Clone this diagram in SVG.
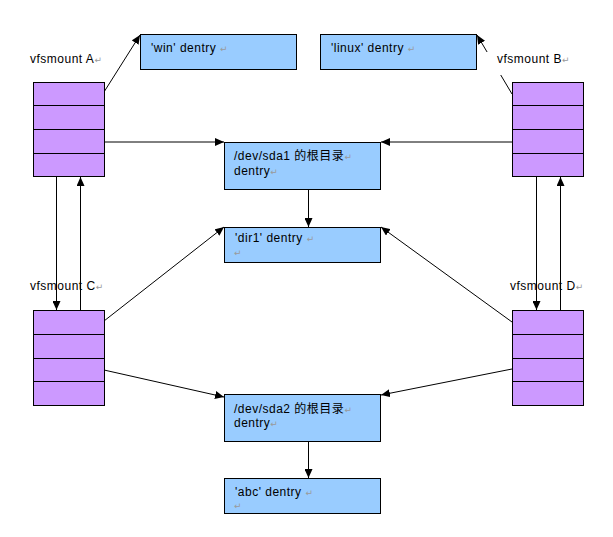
<svg xmlns="http://www.w3.org/2000/svg" width="613" height="537" viewBox="0 0 613 537">
<defs>
<style>
text{font-family:"Liberation Sans","Noto Sans CJK SC",sans-serif;font-size:12px;letter-spacing:0.5px;fill:#000}
.pm{font-family:"DejaVu Sans",sans-serif;font-size:9px;fill:#9a9a9a;letter-spacing:0}
.mnt{fill:#cc99ff;stroke:#000;stroke-width:1}
.row{stroke:#000;stroke-width:1}
.den{fill:#99ccff;stroke:#000;stroke-width:1}
.c{stroke:#000;stroke-width:1;fill:none;marker-end:url(#ah)}
.pl{stroke:#000;stroke-width:1;fill:none}
</style>
<marker id="ah" markerUnits="userSpaceOnUse" markerWidth="9" markerHeight="8" refX="9" refY="4" orient="auto">
<path d="M0,0 L9,4 L0,8 z" fill="#000"/>
</marker>
</defs>
<rect width="613" height="537" fill="#fff"/>
<g id="connectors">
<line class="c" x1="104" y1="92" x2="140" y2="35"/>
<line class="c" x1="104" y1="142" x2="224" y2="142"/>
<line class="c" x1="512" y1="94" x2="477" y2="35"/>
<line class="c" x1="512" y1="142" x2="381" y2="142"/>
<line class="c" x1="56.5" y1="177" x2="56.5" y2="310"/>
<line class="c" x1="80.5" y1="310" x2="80.5" y2="177"/>
<line class="c" x1="536.5" y1="177" x2="536.5" y2="310"/>
<line class="c" x1="560.5" y1="310" x2="560.5" y2="177"/>
<line class="c" x1="308.5" y1="190" x2="308.5" y2="227"/>
<line class="c" x1="104" y1="321" x2="224" y2="227"/>
<line class="c" x1="512" y1="322" x2="381" y2="227"/>
<line class="c" x1="104" y1="370" x2="224" y2="397"/>
<line class="c" x1="512" y1="369" x2="381" y2="395"/>
<line class="c" x1="308.5" y1="442" x2="308.5" y2="478"/>
</g>
<g id="vfsmount-a">
<text x="30" y="63">vfsmount A<tspan class="pm">↵</tspan></text>
<rect class="mnt" x="33.5" y="82.5" width="71" height="94"/>
<line class="row" x1="33.5" y1="105.5" x2="104.5" y2="105.5"/>
<line class="row" x1="33.5" y1="129.5" x2="104.5" y2="129.5"/>
<line class="row" x1="33.5" y1="153.5" x2="104.5" y2="153.5"/>
</g>
<g id="vfsmount-b">
<rect x="486" y="52" width="90" height="23" fill="#fff"/>
<text x="497" y="63">vfsmount B<tspan class="pm">↵</tspan></text>
<rect class="mnt" x="512.5" y="82.5" width="71" height="94"/>
<line class="row" x1="512.5" y1="105.5" x2="583.5" y2="105.5"/>
<line class="row" x1="512.5" y1="129.5" x2="583.5" y2="129.5"/>
<line class="row" x1="512.5" y1="153.5" x2="583.5" y2="153.5"/>
</g>
<g id="vfsmount-c">
<text x="30" y="290">vfsmount C<tspan class="pm">↵</tspan></text>
<rect class="mnt" x="33.5" y="310.5" width="71" height="95"/>
<line class="row" x1="33.5" y1="334.5" x2="104.5" y2="334.5"/>
<line class="row" x1="33.5" y1="358.5" x2="104.5" y2="358.5"/>
<line class="row" x1="33.5" y1="381.5" x2="104.5" y2="381.5"/>
</g>
<g id="vfsmount-d">
<text x="510" y="290">vfsmount D<tspan class="pm">↵</tspan></text>
<rect class="mnt" x="512.5" y="310.5" width="71" height="95"/>
<line class="row" x1="512.5" y1="334.5" x2="583.5" y2="334.5"/>
<line class="row" x1="512.5" y1="358.5" x2="583.5" y2="358.5"/>
<line class="row" x1="512.5" y1="381.5" x2="583.5" y2="381.5"/>
</g>
<g id="win-dentry">
<rect class="den" x="140.5" y="34.5" width="156" height="35"/>
<text x="151" y="52">'win' dentry <tspan class="pm">↵</tspan></text>
</g>
<g id="linux-dentry">
<rect class="den" x="320.5" y="34.5" width="156" height="35"/>
<text x="331" y="52">'linux' dentry <tspan class="pm">↵</tspan></text>
</g>
<g id="sda1-root">
<rect class="den" x="224.5" y="142.5" width="156" height="47"/>
<text x="234" y="160">/dev/sda1 的根目录<tspan class="pm">↵</tspan></text>
<text x="234" y="175">dentry<tspan class="pm">↵</tspan></text>
</g>
<g id="dir1-dentry">
<rect class="den" x="224.5" y="227.5" width="156" height="35"/>
<text x="235" y="242">'dir1' dentry <tspan class="pm">↵</tspan></text>
<text x="234" y="256" class="pm">↵</text>
</g>
<g id="sda2-root">
<rect class="den" x="224.5" y="394.5" width="156" height="47"/>
<text x="234" y="413">/dev/sda2 的根目录<tspan class="pm">↵</tspan></text>
<text x="234" y="427">dentry<tspan class="pm">↵</tspan></text>
</g>
<g id="abc-dentry">
<rect class="den" x="224.5" y="478.5" width="156" height="35"/>
<text x="235" y="496">'abc' dentry <tspan class="pm">↵</tspan></text>
<text x="234" y="509" class="pm">↵</text>
</g>
</svg>
